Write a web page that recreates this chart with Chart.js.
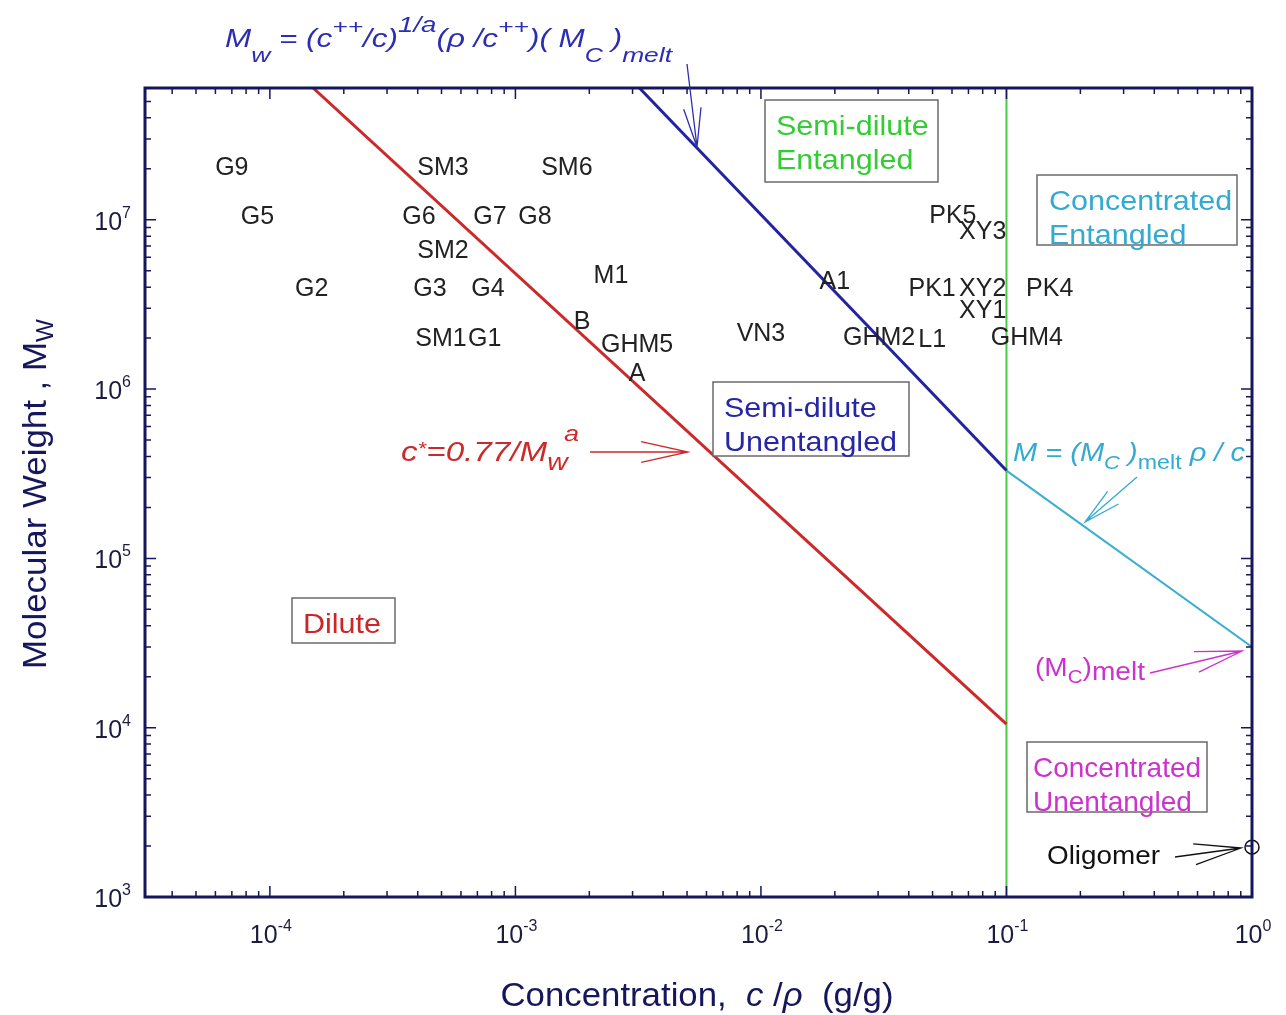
<!DOCTYPE html>
<html>
<head>
<meta charset="utf-8">
<script src="https://cdn.jsdelivr.net/npm/chart.js@4.4.1/dist/chart.umd.min.js"></script>
<style>
  html, body { margin: 0; padding: 0; background: #fff; }
</style>
</head>
<body>
<canvas id="phaseChart" width="1286" height="1015"></canvas>
<script>
// axis ranges and decade ticks (exponents)
var xMin = 3.1e-5, xMax = 1;
var yMin = 1e3, yMax = 6e7;
var xDecades = [-4, -3, -2, -1, 0];
var yDecades = [3, 4, 5, 6, 7];

// boundary lines (c/rho, Mw)
var overlapC = [1.5e-4, 0.1];
var overlapM = [6e7, 1.05e4];
var entangleC = [3.2e-3, 0.1];
var entangleM = [6e7, 3.3e5];
var meltC = [0.1, 1];
var meltM = [3.3e5, 3.0e4];
var concC = [0.1, 0.1];
var concM = [1e3, 6e7];
var oligomerC = [1];
var oligomerM = [1.97e3];

// samples
var sampleNames = ['G9', 'G5', 'G2', 'SM3', 'G6', 'G7', 'G8', 'SM2', 'G3', 'G4', 'SM1', 'G1',
    'SM6', 'M1', 'B', 'GHM5', 'A', 'VN3', 'A1', 'GHM2', 'L1', 'PK1', 'XY2', 'XY1', 'GHM4', 'PK4', 'PK5', 'XY3'];
var sampleC = [7.0e-5, 8.9e-5, 1.48e-4, 5.07e-4, 4.05e-4, 7.87e-4, 1.2e-3, 5.07e-4, 4.49e-4, 7.73e-4, 4.98e-4, 7.5e-4,
    1.62e-3, 2.45e-3, 1.87e-3, 3.13e-3, 3.13e-3, 1.0e-2, 2.0e-2, 3.03e-2, 4.98e-2, 4.98e-2, 8.0e-2, 8.0e-2, 0.121, 0.150, 6.05e-2, 8.0e-2];
var sampleM = [2.02e7, 1.03e7, 3.9e6, 2.02e7, 1.03e7, 1.03e7, 1.03e7, 6.55e6, 3.9e6, 3.9e6, 1.98e6, 1.98e6,
    2.02e7, 4.66e6, 2.49e6, 1.82e6, 1.23e6, 2.11e6, 4.3e6, 2.0e6, 1.94e6, 3.9e6, 3.9e6, 2.89e6, 2.0e6, 3.9e6, 1.05e7, 8.47e6];

function pts(cs, ms) {
    return cs.map(function (c, i) { return { x: c, y: ms[i] }; });
}

var NAVY = '#16165c';
var FONT = '"Liberation Sans", Arial, sans-serif';

// parts: [text, size, style, dy, extra gap]; target = wanted total width, or stretch factor if < 3
function rich(ctx, x, y, parts, align, target) {
    var w = 0;
    parts.forEach(function (p) {
        ctx.font = (p[2] || '') + ' ' + p[1] + 'px ' + FONT;
        w += ctx.measureText(p[0]).width + (p[4] || 0);
    });
    var sx = target ? (target < 3 ? target : target / w) : 1;
    var tw = w * sx;
    var x0 = align === 'center' ? x - tw / 2 : (align === 'right' ? x - tw : x);
    ctx.save();
    ctx.translate(x0, y);
    ctx.scale(sx, 1);
    ctx.textAlign = 'left';
    ctx.textBaseline = 'alphabetic';
    var cx = 0;
    parts.forEach(function (p) {
        ctx.font = (p[2] || '') + ' ' + p[1] + 'px ' + FONT;
        ctx.fillText(p[0], cx, p[3] || 0);
        cx += ctx.measureText(p[0]).width + (p[4] || 0);
    });
    ctx.restore();
    return tw;
}

function arrow(ctx, x1, y1, x2, y2, color, head) {
    var a = Math.atan2(y2 - y1, x2 - x1);
    var len = head || 44, sp = 0.22;
    ctx.save();
    ctx.strokeStyle = color;
    ctx.lineWidth = 1.3;
    ctx.beginPath();
    ctx.moveTo(x1, y1);
    ctx.lineTo(x2, y2);
    ctx.moveTo(x2 - len * Math.cos(a - sp), y2 - len * Math.sin(a - sp));
    ctx.lineTo(x2, y2);
    ctx.lineTo(x2 - len * Math.cos(a + sp), y2 - len * Math.sin(a + sp));
    ctx.stroke();
    ctx.restore();
}

function box(ctx, l, t, w, h, lines, color, inset, stretch) {
    ctx.save();
    ctx.fillStyle = '#fff';
    ctx.fillRect(l, t, w, h);
    ctx.strokeStyle = '#6a6a6a';
    ctx.lineWidth = 1.5;
    ctx.strokeRect(l, t, w, h);
    ctx.fillStyle = color;
    lines.forEach(function (s, i) { rich(ctx, l + inset, t + 35 + i * 34, [[s, 28]], 'left', stretch); });
    ctx.restore();
}

var decor = {
    id: 'decor',
    afterDatasetsDraw: function (chart) {
        var ctx = chart.ctx, xs = chart.scales.x, ys = chart.scales.y, ca = chart.chartArea;
        ctx.save();

        // sample labels
        ctx.fillStyle = '#222';
        ctx.font = '25px ' + FONT;
        ctx.textAlign = 'center';
        ctx.textBaseline = 'middle';
        sampleNames.forEach(function (n, i) {
            ctx.fillText(n, xs.getPixelForValue(sampleC[i]), ys.getPixelForValue(sampleM[i]));
        });

        // frame and inward ticks
        ctx.strokeStyle = NAVY;
        ctx.lineWidth = 3;
        ctx.strokeRect(ca.left, ca.top, ca.right - ca.left, ca.bottom - ca.top);
        ctx.lineWidth = 1.5;
        ctx.beginPath();
        var e, k, v, p, L;
        for (e = -5; e <= 0; e++) {
            for (k = 1; k <= 9; k++) {
                v = k * Math.pow(10, e);
                if (v < xMin || v > xMax) continue;
                p = xs.getPixelForValue(v);
                L = k === 1 ? 11 : 6;
                ctx.moveTo(p, ca.bottom); ctx.lineTo(p, ca.bottom - L);
                ctx.moveTo(p, ca.top); ctx.lineTo(p, ca.top + L);
            }
        }
        for (e = 3; e <= 7; e++) {
            for (k = 1; k <= 9; k++) {
                v = k * Math.pow(10, e);
                if (v < yMin || v > yMax) continue;
                p = ys.getPixelForValue(v);
                L = k === 1 ? 11 : 6;
                ctx.moveTo(ca.left, p); ctx.lineTo(ca.left + L, p);
                ctx.moveTo(ca.right, p); ctx.lineTo(ca.right - L, p);
            }
        }
        ctx.stroke();

        // tick labels
        ctx.fillStyle = '#1c1c40';
        xDecades.forEach(function (d) {
            rich(ctx, xs.getPixelForValue(Math.pow(10, d)) + 1, ca.bottom + 46,
                [['10', 25], [String(d), 16, '', -12]], 'center');
        });
        yDecades.forEach(function (d) {
            rich(ctx, ca.left - 14, ys.getPixelForValue(Math.pow(10, d)) + 10,
                [['10', 25], [String(d), 16, '', -12]], 'right');
        });

        // axis titles
        ctx.fillStyle = NAVY;
        rich(ctx, 697, 1006, [['Concentration,  ', 33], ['c', 33, 'italic'], [' /', 33], ['\u03c1', 33, 'italic'], ['  (g/g)', 33]], 'center', 393);
        ctx.save();
        ctx.translate(46, 494);
        ctx.rotate(-Math.PI / 2);
        rich(ctx, 0, 0, [['Molecular Weight , M', 33], ['W', 23, '', 7]], 'center', 350);
        ctx.restore();

        // region boxes
        box(ctx, 765, 100, 173, 82, ['Semi-dilute', 'Entangled'], '#33cc33', 11, 1.09);
        box(ctx, 1037, 175, 200, 70, ['Concentrated', 'Entangled'], '#33aad0', 12, 1.09);
        box(ctx, 713, 382, 196, 74, ['Semi-dilute', 'Unentangled'], '#2626a6', 11, 1.09);
        box(ctx, 292, 598, 103, 45, ['Dilute'], '#cc2626', 11, 1.09);
        box(ctx, 1027, 742, 180, 70, ['Concentrated', 'Unentangled'], '#cc33cc', 6, 1.0);

        // formulas and arrows
        ctx.fillStyle = '#2d2db4';
        rich(ctx, 225, 47, [['M', 25, 'italic'], ['w', 21, 'italic', 15], [' = (c', 25, 'italic'], ['++', 21, 'italic', -13],
            ['/c)', 25, 'italic'], ['1/a', 22, 'italic', -15], ['(\u03c1 /c', 25, 'italic'], ['++', 21, 'italic', -13],
            [')( M', 25, 'italic'], ['C', 20, 'italic', 15], [' )', 25, 'italic'], ['melt', 21, 'italic', 15]], 'left', 447);
        arrow(ctx, 687, 64, 697, 147, '#2d2db4', 40);

        ctx.fillStyle = '#cc2a2a';
        rich(ctx, 401, 461, [['c', 27, 'italic'], ['*', 18, 'italic', -6], ['=0.77/M', 27, 'italic'], ['w', 23, 'italic', 9, -3], ['a', 22, 'italic', -20]], 'left', 178);
        arrow(ctx, 590, 452, 688, 452, '#cc2a2a', 48);

        ctx.fillStyle = '#33aad0';
        rich(ctx, 1013, 461, [['M = (M', 25, 'italic'], ['C', 19, 'italic', 8], [' )', 25, 'italic'], ['melt', 20, '', 8], [' \u03c1 / c', 25, 'italic']], 'left', 232);
        arrow(ctx, 1137, 477, 1085, 522, '#33aad0', 38);

        ctx.fillStyle = '#cc33cc';
        rich(ctx, 1035, 676, [['(M', 26], ['C', 19, '', 7], [')', 26], ['melt', 26, '', 4]], 'left', 110);
        arrow(ctx, 1150, 673, 1242, 651, '#cc33cc', 48);

        ctx.fillStyle = '#111';
        rich(ctx, 1047, 864, [['Oligomer', 26]], 'left', 113);
        arrow(ctx, 1175, 857, 1241, 848, '#111', 48);

        ctx.restore();
    }
};

new Chart(document.getElementById('phaseChart'), {
    type: 'scatter',
    data: {
        datasets: [
            { data: pts(overlapC, overlapM), showLine: true, borderColor: '#cc2a2a', borderWidth: 3, pointRadius: 0 },
            { data: pts(entangleC, entangleM), showLine: true, borderColor: '#2323a0', borderWidth: 3, pointRadius: 0 },
            { data: pts(meltC, meltM), showLine: true, borderColor: '#3aaed0', borderWidth: 2, pointRadius: 0 },
            { data: pts(concC, concM), showLine: true, borderColor: '#44cc44', borderWidth: 2, pointRadius: 0 },
            { data: pts(oligomerC, oligomerM), pointRadius: 7, pointBorderColor: '#111', pointBorderWidth: 1.5,
              pointBackgroundColor: 'rgba(0,0,0,0)', clip: false },
            { data: pts(sampleC, sampleM), pointRadius: 0 }
        ]
    },
    options: {
        responsive: false,
        animation: false,
        devicePixelRatio: 1,
        layout: { padding: { left: 145, right: 34, top: 88, bottom: 118 } },
        plugins: { legend: { display: false }, tooltip: { enabled: false } },
        scales: {
            x: { type: 'logarithmic', min: xMin, max: xMax, display: false },
            y: { type: 'logarithmic', min: yMin, max: yMax, display: false }
        }
    },
    plugins: [decor]
});
</script>
</body>
</html>
